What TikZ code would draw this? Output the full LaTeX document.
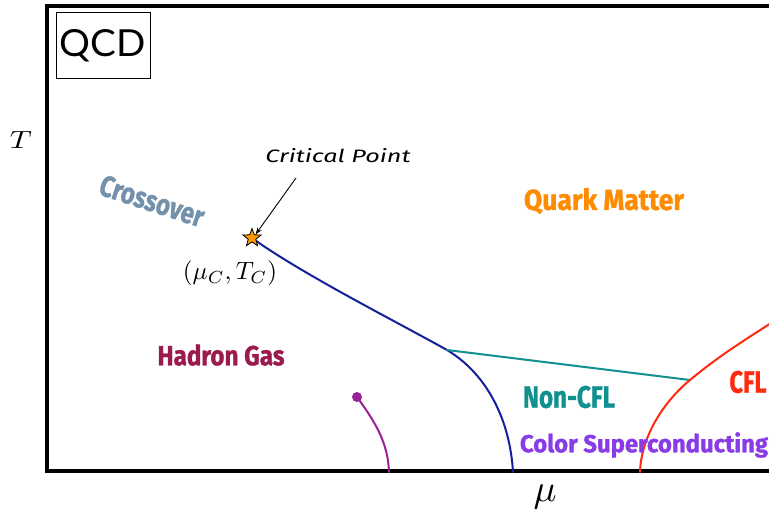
\documentclass[tikz,border=0pt]{standalone}
\usepackage{fontspec}
\usetikzlibrary{shapes.geometric,arrows.meta}
\newfontfamily\chalk{Fira Sans}[BoldFeatures={FakeBold=1.2}]
\newfontfamily\qcdfont{Lato}
\definecolor{crossc}{HTML}{7391AB}
\definecolor{quarkc}{HTML}{FF8C00}
\definecolor{hadronc}{HTML}{9B1B4F}
\definecolor{tealc}{HTML}{119090}
\definecolor{cflc}{HTML}{FF2A10}
\definecolor{supc}{HTML}{8A3BE8}
\definecolor{bluec}{HTML}{14209A}
\definecolor{purpc}{HTML}{9A2299}
\definecolor{starc}{HTML}{FF9900}
\begin{document}
\begin{tikzpicture}[x=1pt,y=-1pt,
  lbl/.style={inner sep=0pt,outer sep=0pt},
  phase/.style={lbl,font=\chalk\bfseries},
  curve/.style={line width=2pt,line cap=round}]
\useasboundingbox (0,0) rectangle (769,516);
\fill[white] (0,0) rectangle (769,516);
% frame
\coordinate (tr) at (769,6);
\coordinate (tl) at (47,6);
\coordinate (bl) at (47,471);
\coordinate (br) at (769,471);
\draw[line width=3.5pt,line join=miter] (tr) -- (tl) -- (bl) -- (br);
% QCD box
\node[lbl,draw,line width=1pt,minimum width=94pt,minimum height=66pt] (qcd) at (103,46) {\resizebox{86pt}{27pt}{\qcdfont QCD}};
% axis labels
\node[lbl] (T) at (21,140) {\resizebox{22pt}{17pt}{$T$}};
\node[lbl] (mu) at (545,497) {\resizebox{23pt}{!}{$\mu$}};
% key coordinates
\coordinate (cpc) at (252,238);
\coordinate (tj) at (447,350);
\coordinate (rj) at (690,380);
\coordinate (bb) at (513,472);
\coordinate (rb) at (640,472);
\coordinate (pb) at (389,472);
\coordinate (re) at (771,323);
% curves
\draw[curve,bluec] (cpc) .. controls (302,274) and (397,322) .. (tj)
                         .. controls (487,374) and (510,420) .. (bb);
\draw[curve,tealc] (tj) -- (rj);
\draw[curve,cflc] (rb) .. controls (641,440) and (660,405) .. (rj)
                       .. controls (720,355) and (745,340) .. (re);
\node[circle,fill=purpc,inner sep=0pt,minimum size=10pt] (pd) at (357,397) {};
\draw[curve,purpc] (pd.center) .. controls (372,418) and (388,440) .. (pb);
% critical point
\node[star,star points=5,star point ratio=2.4,draw=black,line width=0.8pt,fill=starc,inner sep=0pt,minimum size=19pt] (cp) at (cpc) {};
\node[lbl] (cptext) at (338,156) {\resizebox{145pt}{14pt}{\chalk\itshape Critical Point}};
\coordinate (arrs) at (296,178);
\draw[line width=0.9pt,-{Stealth[length=7pt,width=5pt]}] (arrs) -- (cp.north east);
\node[lbl] (muc) at (230,273) {\resizebox{94pt}{!}{$(\mu_C,T_C)$}};
% phase labels
\node[phase,text=crossc,rotate=-18] (cross) at (152,201) {\resizebox{108pt}{21pt}{Crossover}};
\node[phase,text=quarkc] (quark) at (604,201) {\resizebox{160pt}{22pt}{Quark Matter}};
\node[phase,text=hadronc] (hadron) at (221,355) {\resizebox{127pt}{21pt}{Hadron Gas}};
\node[phase,text=tealc] (noncfl) at (569,397) {\resizebox{92pt}{22pt}{Non-CFL}};
\node[phase,text=cflc] (cfl) at (748,382) {\resizebox{37pt}{22pt}{CFL}};
\node[phase,text=supc] (csc) at (644,445) {\resizebox{248pt}{20pt}{Color Superconducting}};
\end{tikzpicture}
\end{document}
